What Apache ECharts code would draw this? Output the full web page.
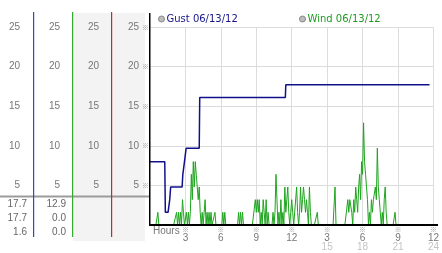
<!DOCTYPE html>
<html><head><meta charset="utf-8">
<script src="https://cdn.jsdelivr.net/npm/echarts@6/dist/echarts.min.js"></script>
<style>html,body{margin:0;padding:0;background:#fff}#c{width:442px;height:253px}</style>
</head><body><div id="c"></div>
<script>
// Wind, one value every 5 minutes (index i = i*5 min), hour rows of 12
const windValues = [
  0,0,0,0,0,0,0,0,1.6,0,0,0,
  0,0,0,0,0,0,0,0,0,0,0,0,
  0,0,0,1.6,0,1.6,0,1.6,0,3.2,1.6,0,
  0,1.6,0,1.6,0,1.6,6.4,3.2,8.0,4.8,8.0,6.4,
  4.8,3.2,4.8,1.6,0,1.6,0,1.6,3.2,0,1.6,0,
  1.6,0,1.6,0,0,0,1.6,0,0,0,0,0,
  0,0,1.6,0,1.6,0,0,0,0,0,0,0,
  0,0,0,0,0,0,1.6,0,1.6,0,1.6,0,
  0,0,0,0,0,0,0,0,0,0,0,3.2,
  1.6,3.2,1.6,3.2,0,1.6,0,3.2,1.6,0,3.2,0,
  1.6,0,0,0,0,1.6,0,1.6,6.4,3.2,0,1.6,
  0,3.2,0,1.6,0,4.8,1.6,3.2,4.8,1.6,0,1.6,
  3.2,1.6,0,0,0,4.8,1.6,0,1.6,4.8,1.6,3.2,
  4.8,3.2,1.6,3.2,1.6,0,4.8,1.6,0,0,0,0,
  0,0,1.6,0,0,0,0,0,0,0,0,0,
  0,0,0,0,0,0,0,0,4.8,0,0,0,
  0,0,0,0,0,0,0,0,0,3.2,1.6,3.2,
  3.2,1.6,0,3.2,1.6,4.8,3.2,1.6,4.8,6.4,3.2,8.0,
  6.4,12.9,8.0,6.4,4.8,3.2,0,1.6,0,3.2,1.6,3.2,
  3.2,4.8,3.2,9.7,4.8,3.2,1.6,0,1.6,0,3.2,4.8,
  1.6,0,0,0,0,0,0,0,0,1.6,0,0,
  0,0,0,0,0,0,0,0,0,0,0,0,
  0,0,0,0,0,0,0,0,0,0,0,0,
  0,0,0,0,0,0,0,0,0
];
const gustHours  = [0, 1.25, 1.3, 1.53, 1.67, 1.75, 2.72, 2.78, 2.92, 3.06, 4.17, 4.21, 11.46, 11.5, 23.67];
const gustValues = [8.0, 8.0, 1.6, 1.6, 3.2, 4.8, 4.8, 6.4, 8.0, 9.7, 9.7, 16.1, 16.1, 17.7, 17.7];
const yTicks = [5, 10, 15, 20, 25];
const hourTicks = [3, 6, 9, 12, 15, 18, 21, 24];
const hourLabels = ['3', '6', '9', '12', '3', '6', '9', '12'];
const hour24Labels = ['', '', '', '', '15', '18', '21', '24'];
const gustStats = ['17.7', '17.7', '1.6'];
const windStats = ['12.9', '0.0', '0.0'];
const gustName = 'Gust 06/13/12';
const windName = 'Wind 06/13/12';
const hoursTitle = 'Hours';

const FONT = '"Liberation Sans", Arial, sans-serif';
const MARKFONT = '"Noto Sans CJK JP", "DejaVu Sans", sans-serif';
const MARK = '※';

const windData = windValues.map((v, i) => [i / 12, v]);
const gustData = gustHours.map((h, i) => [h, gustValues[i]]);

function yFmt(v) { return yTicks.indexOf(v) >= 0 ? String(v) : ''; }

const sideAxis = (offset, margin) => ({
  type: 'value', min: 0, max: 25, interval: 5, position: 'left', offset: offset,
  axisLine: { show: false }, axisTick: { show: false }, splitLine: { show: false },
  axisLabel: { margin: margin, formatter: yFmt, color: '#777', fontSize: 10, fontFamily: FONT }
});

const statTexts = [];
[0, 1, 2].forEach(r => {
  statTexts.push({ type: 'text', x: 27, y: 204 + r * 14, z: 5,
    style: { text: gustStats[r], align: 'right', verticalAlign: 'middle', fill: '#666', fontSize: 10, fontFamily: FONT } });
  statTexts.push({ type: 'text', x: 66, y: 204 + r * 14, z: 5,
    style: { text: windStats[r], align: 'right', verticalAlign: 'middle', fill: '#666', fontSize: 10, fontFamily: FONT } });
});

const vbar = (x, y, h, color, w) => ({ type: 'rect', shape: { x: x, y: y, width: w || 1, height: h }, style: { fill: color }, z: 20, silent: true });

const chart = echarts.init(document.getElementById('c'), null, { renderer: 'canvas' });
chart.setOption({
  animation: false,
  backgroundColor: '#fff',
  grid: { left: 150, right: 4, top: 27, bottom: 28 },
  legend: [
    { data: [{ name: gustName, icon: 'circle', itemStyle: { color: '#bdbdbd', borderColor: '#888', borderWidth: 1 }, textStyle: { color: '#14148a' } }],
      left: 158, top: 14, itemWidth: 6, itemHeight: 6, padding: 0, selectedMode: false,
      textStyle: { fontFamily: '"DejaVu Sans", sans-serif', fontSize: 10, padding: [0, 0, 0, -3] } },
    { data: [{ name: windName, icon: 'circle', itemStyle: { color: '#bdbdbd', borderColor: '#888', borderWidth: 1 }, textStyle: { color: '#1e9a1e' } }],
      left: 299, top: 14, itemWidth: 6, itemHeight: 6, padding: 0, selectedMode: false,
      textStyle: { fontFamily: '"DejaVu Sans", sans-serif', fontSize: 10, padding: [0, 0, 0, -3] } }
  ],
  xAxis: {
    type: 'value', min: 0, max: 24, interval: 3,
    axisLine: { show: false }, axisTick: { show: false },
    splitLine: { show: true, showMinLine: false, lineStyle: { color: '#dcdcdc', width: 1 } },
    axisLabel: {
      margin: 0, fontFamily: FONT,
      formatter: v => {
        const i = hourTicks.indexOf(v);
        if (i < 0) return '';
        let s = '{m|' + MARK + '}\n{a|' + hourLabels[i] + '}';
        if (hour24Labels[i]) s += '\n{b|' + hour24Labels[i] + '}';
        return s;
      },
      rich: {
        m: { fontSize: 7, lineHeight: 9, color: '#999', fontFamily: MARKFONT },
        a: { fontSize: 10, lineHeight: 9, color: '#777', fontFamily: FONT },
        b: { fontSize: 10, lineHeight: 8, color: '#c4c4c4', fontFamily: FONT }
      }
    }
  },
  yAxis: [
    { type: 'value', min: 0, max: 25, interval: 5, position: 'left', offset: 0,
      axisLine: { show: false }, axisTick: { show: false },
      splitLine: { show: true, showMinLine: false, lineStyle: { color: '#dcdcdc', width: 1 } },
      axisLabel: { margin: 1, formatter: v => yTicks.indexOf(v) >= 0 ? '{v|' + v + '}{m|' + MARK + '}' : '',
        rich: {
          v: { color: '#777', fontSize: 10, fontFamily: FONT },
          m: { color: '#999', fontSize: 7, padding: [0, 0, 0, 3], fontFamily: MARKFONT }
        } } },
    sideAxis(39, 12),
    sideAxis(78, 12),
    sideAxis(117, 13)
  ],
  series: [
    { name: windName, type: 'line', data: windData, showSymbol: false, symbol: 'none', z: 2,
      lineStyle: { color: '#1ea51e', width: 1 }, itemStyle: { color: '#1ea51e' } },
    { name: gustName, type: 'line', data: gustData, showSymbol: false, symbol: 'none', z: 3,
      lineStyle: { color: '#10108c', width: 1.5 }, itemStyle: { color: '#10108c' } }
  ],
  graphic: [
    { type: 'rect', shape: { x: 73, y: 13, width: 72, height: 228 }, style: { fill: '#f3f3f3' }, z: -10, silent: true },
    { type: 'rect', shape: { x: 0, y: 195.5, width: 150, height: 2 }, style: { fill: '#9c9c9c' }, z: 10, silent: true },
    vbar(33, 12, 225, '#2a4cc0', 1.2),
    vbar(72, 12, 225, '#33aa33', 1.2),
    vbar(111, 12, 225, '#c02c2c', 1.2),
    vbar(149, 13, 213, '#000000', 1.5),
    { type: 'rect', shape: { x: 150, y: 224, width: 288, height: 2 }, style: { fill: '#000' }, z: 20, silent: true },
    { type: 'text', x: 153, y: 231.5, z: 5, style: { text: hoursTitle, verticalAlign: 'middle', fill: '#777', fontSize: 10, fontFamily: FONT } }
  ].concat(statTexts)
});
</script>
</body></html>
